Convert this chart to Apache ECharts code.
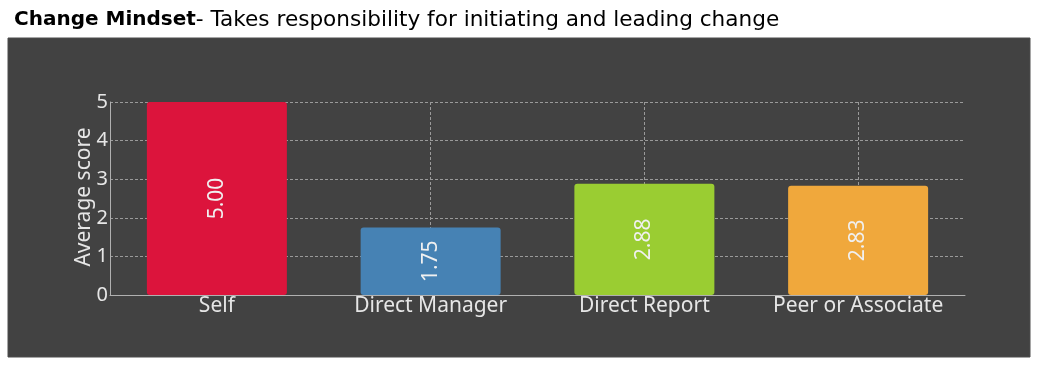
<!DOCTYPE html>
<html>
<head>
<meta charset="utf-8">
<script src="https://cdn.jsdelivr.net/npm/echarts@6/dist/echarts.min.js"></script>
<style>
html,body{margin:0;padding:0;background:#fff;}
#chart{width:1046px;height:369px;}
</style>
</head>
<body>
<div id="chart"></div>
<script>
const categories = ['Self', 'Direct Manager', 'Direct Report', 'Peer or Associate'];
const scores = [5.00, 1.75, 2.88, 2.83];
const yTicks = [0, 1, 2, 3, 4, 5];

const palette = ['#DC143C', '#4682B4', '#9ACD32', '#F0A83C'];
const chart = echarts.init(document.getElementById('chart'), null, {renderer: 'canvas'});
const labelFont = '"Noto Sans", "Open Sans", sans-serif';
const titleFont = '"DejaVu Sans", sans-serif';
chart.setOption({
  animation: false,
  backgroundColor: '#ffffff',
  graphic: [{
    type: 'rect', z: -10, silent: true,
    shape: {x: 8, y: 38, width: 1022, height: 319},
    style: {fill: '#424242', stroke: '#4c4c4c', lineWidth: 1}
  }],
  title: {
    left: 9, top: 4,
    text: '{b|Change Mindset}{r|- Takes responsibility for initiating and leading change}',
    textStyle: {
      rich: {
        b: {fontFamily: titleFont, fontWeight: 'bold', fontSize: 20, color: '#000'},
        r: {fontFamily: titleFont, fontWeight: 'normal', fontSize: 21.6, color: '#000'}
      }
    }
  },
  grid: {left: 110, right: 81, top: 102, bottom: 74},
  xAxis: {
    type: 'category',
    data: categories,
    axisLine: {show: true, lineStyle: {color: '#b0b0b0', width: 1}},
    axisTick: {show: false},
    axisLabel: {color: '#e6e6e6', fontFamily: labelFont, fontSize: 21, margin: 1, interval: 0},
    splitLine: {show: false}
  },
  yAxis: {
    type: 'value',
    min: yTicks[0], max: yTicks[yTicks.length - 1], interval: 1,
    name: 'Average score',
    nameLocation: 'middle',
    nameGap: 15,
    nameMoveOverlap: false,
    nameTextStyle: {color: '#e6e6e6', fontFamily: labelFont, fontSize: 21, padding: [0, 0, 0, 3]},
    axisLine: {show: true, lineStyle: {color: '#b0b0b0', width: 1}},
    axisTick: {show: false},
    axisLabel: {color: '#e6e6e6', fontFamily: labelFont, fontSize: 20, margin: 2},
    splitLine: {show: true, lineStyle: {color: '#9a9a9a', type: [3, 2], width: 1}}
  },
  series: [{
    type: 'bar',
    data: scores,
    barWidth: '65.5%',
    itemStyle: {
      borderRadius: 3,
      color: (p) => palette[p.dataIndex]
    },
    label: {
      show: true,
      position: 'inside',
      rotate: 90,
      color: '#f0f0f0',
      fontFamily: labelFont,
      fontSize: 21,
      formatter: (p) => p.value.toFixed(2)
    },
    markLine: {
      z: 1,
      silent: true,
      symbol: 'none',
      label: {show: false},
      lineStyle: {color: '#9a9a9a', type: [3, 2], width: 1},
      data: categories.map(c => ({xAxis: c}))
    }
  }]
});
</script>
</body>
</html>
